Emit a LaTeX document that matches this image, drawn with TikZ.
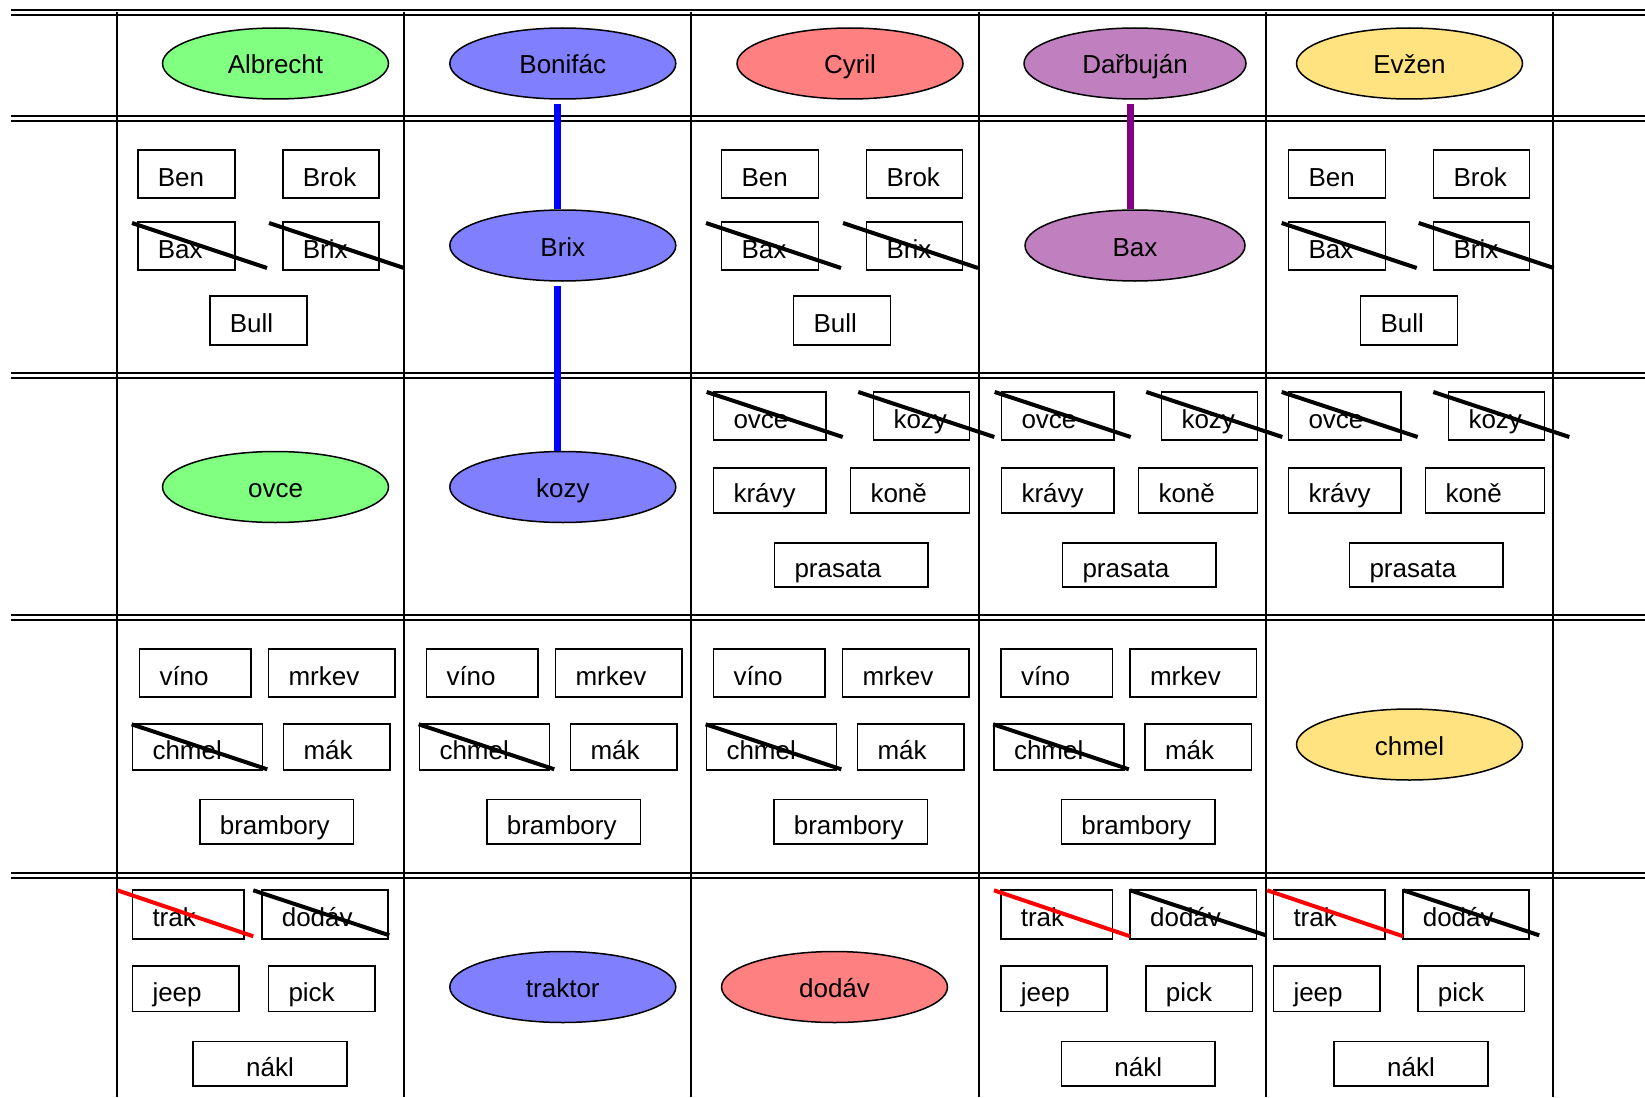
\documentclass[tikz,border=0pt]{standalone}
\usepackage{fontspec}
\setmainfont{Liberation Sans}
\usetikzlibrary{shapes.geometric}

\definecolor{ovcegreen}{HTML}{80FF80}
\definecolor{kozyblue}{HTML}{8080FF}
\definecolor{cyrred}{HTML}{FF8080}
\definecolor{darpurple}{HTML}{C080C0}
\definecolor{evyellow}{HTML}{FFE380}
\definecolor{linkpurple}{HTML}{800080}

\begin{document}
\begin{tikzpicture}[x=1pt,y=-1pt]
		\tikzset{every node/.style={font=\fontsize{26}{30}\selectfont}}
		\tikzset{owner/.style={ellipse, draw, line width=1.5pt, minimum width=226pt, minimum height=71pt, inner sep=0pt, text height=21pt, text depth=0pt}}
		\tikzset{box/.style={draw, line width=1.6pt, anchor=north west, inner xsep=20pt, inner ysep=0pt, text width=#1, align=left, text height=25pt, text depth=0pt, minimum height=47pt}}
		\tikzset{cross/.style={line width=4pt}}
		\tikzset{link/.style={line width=7pt, shorten <=4pt}}
		\tikzset{rule/.style={double, double distance=3pt, line width=2pt}}
		\useasboundingbox (0,0) rectangle (1645,1097);
		% table
		\foreach \y in {12.5,118.5,375,617.5,875}
			\draw[rule] (11,\y) -- (1645,\y);
		\foreach \x in {117,404,691,978.5,1266,1553}
			\draw[line width=2pt] (\x,12.5) -- (\x,1097);
		% chosen ones
		\node[owner, fill=ovcegreen] (albrecht) at (275.5,63.5) {Albrecht};
		\node[owner, fill=kozyblue] (bonifac) at (562.8,63.5) {Bonifác};
		\node[owner, fill=cyrred] (cyril) at (850,63.5) {Cyril};
		\node[owner, fill=darpurple, minimum width=222pt] (darbujan) at (1135,63.5) {Dařbuján};
		\node[owner, fill=evyellow] (evzen) at (1409.5,63.5) {Evžen};
		\node[owner, fill=kozyblue] (brix) at (562.8,245.5) {Brix};
		\node[owner, fill=darpurple, minimum width=220pt] (bax) at (1135,245.5) {Bax};
		\node[owner, fill=ovcegreen] (ovce) at (275.5,487) {ovce};
		\node[owner, fill=kozyblue] (kozy) at (562.8,487) {kozy};
		\node[owner, fill=evyellow] (chmel) at (1409.5,744.5) {chmel};
		\node[owner, fill=kozyblue] (traktor) at (562.8,987) {traktor};
		\node[owner, fill=cyrred] (dodav) at (834.5,987) {dodáv};
		\draw[link, blue] ([xshift=-5pt]bonifac.south) -- ([xshift=-5pt]brix.north);
		\draw[link, blue] ([xshift=-5pt]brix.south) -- ([xshift=-5pt]kozy.north);
		\draw[link, linkpurple] ([xshift=-5pt]darbujan.south) -- ([xshift=-5pt]bax.north);
		% dogs
		\foreach \c/\L/\S in {1/137/-5,3/720.7/-14.7,5/1287.7/-6} {
			\node[box=57pt, minimum height=48pt] (ben\c) at (\L,149) {Ben};
			\node[box=56pt, minimum height=48pt] (brok\c) at (\L+145,149) {Brok};
			\node[box=57pt, minimum height=48pt] (bax\c) at (\L,221) {Bax};
			\node[box=56pt, minimum height=48pt] (brix\c) at (\L+145,221) {Brix};
			\node[box=57pt, minimum height=49pt] (bull\c) at (\L+72,295) {Bull};
			\draw[cross] ([shift={(\S,2)}]bax\c.north west) -- ++(135,45);
			\draw[cross] ([shift={(\S+137,2)}]bax\c.north west) -- ++(135,45);
		}
		% animals
		\foreach \c/\L in {3/712.7,4/1000.7,5/1287.7} {
			\node[box=72.6pt, minimum height=48pt] (ovce\c) at (\L,391) {ovce};
			\node[box=56pt, minimum height=48pt] (kozy\c) at (\L+160,391) {kozy};
			\node[box=72.6pt, minimum height=45pt] (kravy\c) at (\L,467) {krávy};
			\node[box=79pt, minimum height=45pt] (kone\c) at (\L+137,467) {koně};
			\node[box=113.6pt, minimum height=44pt] (prasata\c) at (\L+61,542) {prasata};
			\draw[cross] ([shift={(-6,1)}]ovce\c.north west) -- ++(136,45);
			\draw[cross] ([shift={(-14.4,1)}]kozy\c.north west) -- ++(136,45);
		}
		% crops
		\foreach \c/\C in {1/117,2/404,3/691,4/978.5} {
			\node[box=71.6pt, minimum height=47.7pt] (vino\c) at (\C+21.7,648.3) {víno};
			\node[box=86.6pt, minimum height=47.7pt] (mrkev\c) at (\C+150.7,648.3) {mrkev};
			\node[box=90pt, minimum height=45.7pt] (chmel\c) at (\C+14.7,723.3) {chmel};
			\node[box=66.6pt, minimum height=45.7pt] (mak\c) at (\C+165.7,723.3) {mák};
			\node[box=113.7pt, minimum height=44.3pt] (brambory\c) at (\C+82,798.7) {brambory};
			\draw[cross] ([shift={(0,1)}]chmel\c.north west) -- ++(135.6,45);
		}
		% cars
		\foreach \c/\L/\S/\P in {1/131.7/-14.4/136,4/1000/-6/145,5/1272.7/-5.5/144.3} {
			\node[box=71.6pt, minimum height=48.7pt] (trak\c) at (\L,889.3) {trak};
			\node[box=86.3pt, minimum height=48.7pt] (dodav\c) at (\L+129.3,889.3) {dodáv};
			\node[box=66.3pt, minimum height=45.4pt] (jeep\c) at (\L,965.3) {jeep};
			\node[box=66.6pt, minimum height=45.4pt] (pick\c) at (\L+\P,965.3) {pick};
			\node[box=113.7pt, minimum height=44.6pt, align=center] (nakl\c) at (\L+60.6,1040.7) {nákl};
			\draw[cross, red] ([shift={(\S,1)}]trak\c.north west) -- ++(136,46);
			\draw[cross] ([shift={(\S+136,1)}]trak\c.north west) -- ++(136,45);
		}
\end{tikzpicture}
\end{document}
